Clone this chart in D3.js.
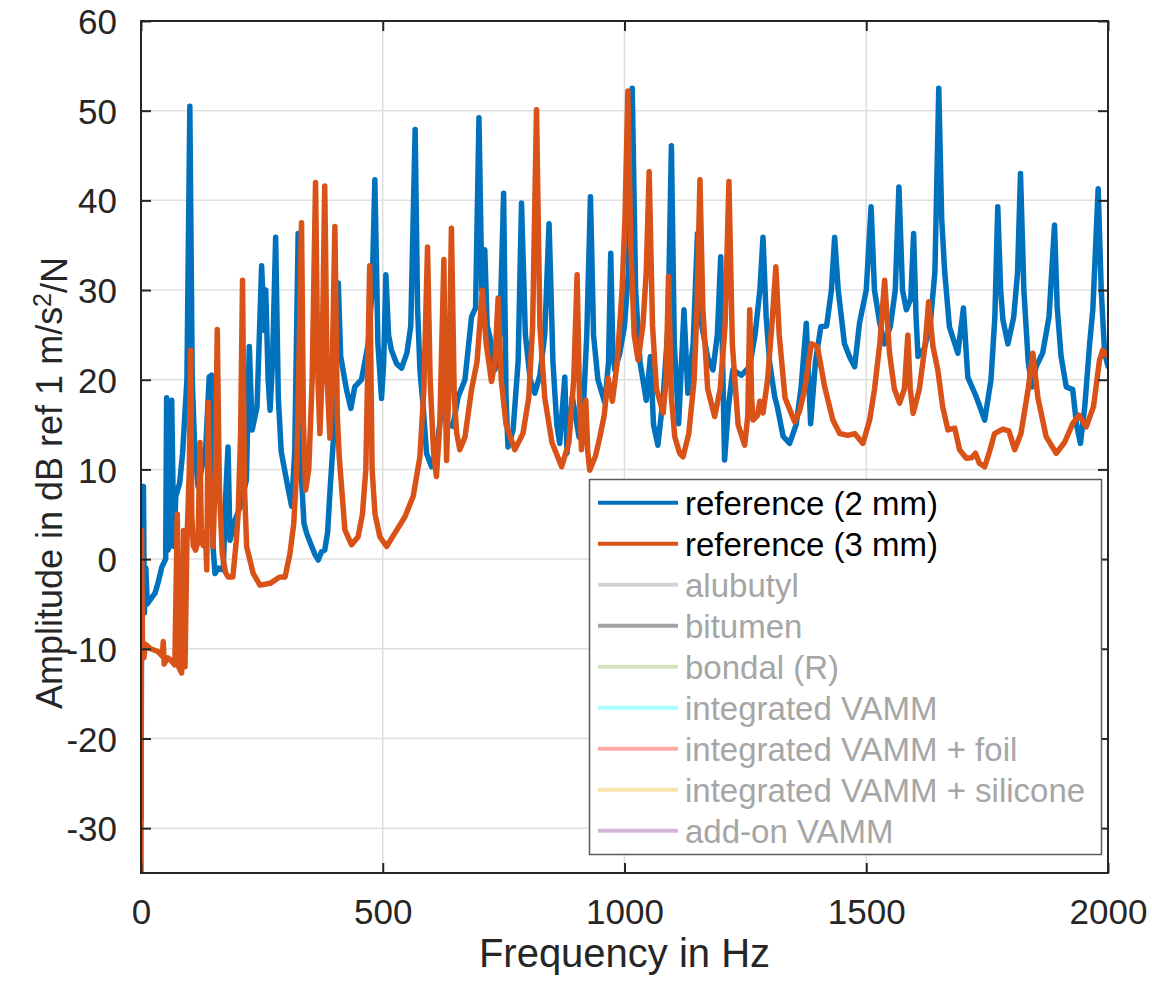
<!DOCTYPE html>
<html>
<head>
<meta charset="utf-8">
<script src="https://cdn.jsdelivr.net/npm/d3@7"></script>
<style>
  body { margin: 0; background: #fff; }
  text { font-family: "Liberation Sans", Arial, Helvetica, sans-serif; fill: #262626; }
</style>
</head>
<body>
<div id="chart"></div>
<script>
// frequency (Hz), amplitude (dB)
const ref2mm = [
  [0,-29],[2,7.8],[5,8.1],[7,-6],[10,-1],[13,-5],[18,-4.6],[29,-3.8],[36,-2.5],[43,-0.9],
  [51,0],[53,18],[56,1],[61,2],[63.5,17.7],[68,1.4],[72,7],[80,8.5],[86,11.8],[95,20],
  [101,50.5],[106,20],[111,12.5],[118,8.1],[125,10],[134,12.5],[141,20.3],[146,20.5],[149,1.4],[153,-1.6],
  [160,-1],[170,-1.2],[176,8.1],[180,12.5],[184,2.1],[194,4.3],[205,5.8],[218,8.8],[224,23.7],[230,14.4],
  [240,17],[249.5,32.7],[255,25.5],[258,30],[263,20],[267,16.6],[272,22],[278.5,35.9],[284,18],[290,12],
  [301,8.8],[311.5,5.9],[318,12],[325,36.3],[329,12],[337,4],[342.5,2.9],[353,1.4],[360,0.5],[366.6,-0.1],
  [373,0.8],[380,1.0],[386,3],[391,7.7],[400,15],[408,30.8],[413,22.6],[425,18.9],[434,16.8],[442,19.2],
  [456,20],[470,24],[478,30],[483.7,42.3],[490,24],[497.5,17.9],[502,22],[506.5,31.7],[512,25],[518,23.3],
  [528.5,21.8],[539,21.3],[550,23],[558,26],[567,47.9],[572,28],[577,21],[583.6,17],[590.6,11.8],[601,10.3],
  [611,12.2],[621.6,16.6],[635,15.1],[645,14.8],[656,18.1],[670,20],[683.6,27],[692,28],[699,49.2],[705,30],
  [711,34.5],[716,26],[721.5,24.8],[732,21.1],[742,25],[750,40.8],[755,18],[759,12.5],[769.6,14.4],[780,22],
  [787,39.7],[795,25],[805,20],[814.5,18.5],[825,20.5],[835,25],[844,37.4],[852,22],[860,15],[866,12.9],
  [876.5,20.3],[881,11.8],[892,18.1],[906,13.6],[915,17],[922,25],[929.6,40.4],[936,25],[945,20],[959.5,17.4],
  [967,22],[971.5,34.1],[976,23],[980,21.1],[990,22.9],[1000,26],[1008,32],[1016,52.5],[1023,30],[1032,22],
  [1045,17.7],[1053.6,22.6],[1060,15],[1069,12.7],[1080,18],[1090,26],[1097,46.1],[1103,24],[1112,15.1],[1123,27.8],
  [1131,18.5],[1142,24],[1151,36.3],[1160,26],[1172,22.5],[1183,21.1],[1192,25],[1199,33.7],[1203,22],[1207,11.05],
  [1215,17],[1224,21.1],[1242,20.5],[1259,21.5],[1270,25],[1280,30],[1286.5,35.9],[1293,27],[1300,22],[1310.6,18.1],
  [1316,17],[1328,13.7],[1341.5,12.9],[1355,15],[1365,19],[1376,26.3],[1385,15.1],[1395,22],[1406,25.9],[1418,26],
  [1428,30],[1434.6,35.9],[1442,30],[1455,24],[1466,22.5],[1476,21.45],[1486,26.3],[1500,30],[1510,39.3],[1517,30],
  [1528,26.3],[1538,24],[1550,26],[1560,30],[1567.6,41.5],[1575,30],[1583,27.8],[1592,29],[1598,36.3],[1603,27],
  [1607,22.6],[1620,23.5],[1632,26],[1642,32],[1650,52.5],[1656,38],[1662,32.2],[1672,25.9],[1689.5,22.95],[1701,28],
  [1710,20.3],[1727.5,18.1],[1745,15.5],[1758,20],[1766,27],[1772,39.3],[1778,30],[1782.6,26.7],[1793,24],[1805,27],
  [1813,32],[1819,43],[1826,30],[1835,22],[1842.6,19.2],[1851.6,21.5],[1865,23],[1878,27],[1889.4,37.25],[1895,28],
  [1903,22.6],[1913.6,19.2],[1927,18.9],[1935,15],[1943,12.9],[1952,17],[1962,24],[1968.6,27.8],[1979.7,41.3],[1986,30],
  [1993,23],[2000,21.5]
];

const ref3mm = [
  [0,-35],[1,3.2],[3,-9],[6,-11],[9,-9.5],[20,-10],[35,-10.3],[44,-10.8],[46,-9.2],[48,-11.7],
  [55,-11],[62,-11.3],[70,-11.8],[75,5],[78,-12],[84,-12.7],[88,3.2],[91,-12],[95,2],[100,10],
  [102.7,23.3],[105,5],[108,1.5],[113,1],[118,2],[122,13],[125,2],[129,1.5],[133,3],[136,-1.2],
  [139,17.5],[143,5],[147,8],[149,1.4],[154,10],[157.7,25.6],[162,8],[168,0.6],[175,-1.5],[180.5,-2],
  [190,-2],[197,2],[201,5.1],[206,14],[210,31.1],[214,8],[218.5,1.4],[232,-1.6],[246,-2.9],[267,-2.7],
  [287,-2.0],[298,-2],[308,0.6],[316,4],[322,10],[326,20],[332,37.5],[336,15],[340.4,7.7],[347,10],
  [354,20],[361,42],[366,20],[370,14],[374,20],[380,41.6],[385,20],[390.7,13.5],[395,20],[401,37.1],
  [406,16],[410,11.4],[421.7,3.25],[435.5,1.6],[449,2.5],[458,5],[465,10],[473,32.7],[478,10],[484,5],
  [494,2.5],[508,1.4],[525,2.9],[545.7,4.7],[563,7],[576.8,11.4],[585,18.9],[592.6,34.8],[598,20],[605,12],
  [611,9.2],[618,15],[626.4,33.4],[629,20],[632,11],[637,20],[642,36.9],[648,18],[653,14],[659.4,12.2],
  [670,13.6],[683.6,18.9],[695,22],[706,30],[714,24],[725,19.8],[732,22],[738.6,29.1],[745,20],[755,15],
  [773,12.2],[790,14],[802,18],[810,26],[818,50.1],[825,26],[835,18],[850,13],[870,10.3],[885,13],
  [895,20],[902,31.7],[907,18],[911,12.2],[920,17.7],[924,12],[928,9.9],[940,11.5],[949,13.6],[958,16],
  [966,20.2],[975,17.6],[985,22],[995,30],[1001,38],[1007,52.2],[1013,35],[1020,25],[1028,22.2],[1038,26],
  [1045,32],[1051,43.2],[1058,26],[1066,19],[1080,16.3],[1086,20],[1091,31.5],[1097,18],[1104,13.65],[1114,11.8],
  [1121,11.4],[1133,14],[1144,20],[1150,28],[1156,42.3],[1162,28],[1172,19],[1186.5,15.9],[1198,19],[1208,26],
  [1216,42.1],[1223,24],[1235,15],[1248.6,12.7],[1255,16],[1259,27.8],[1263,18],[1266,15.5],[1275,16],[1280,17.6],
  [1286.5,16.3],[1296,20],[1306,27],[1313,32.6],[1320,25],[1332,18],[1352,15.3],[1362,16.5],[1372.6,18.9],[1386.5,24],
  [1399,23.7],[1414,19.2],[1431,15.5],[1445,14.0],[1462,13.8],[1476,14.0],[1493,12.9],[1507,15.5],[1517,18.9],[1528,24],
  [1538,31.1],[1548,23],[1558,19],[1569,17.4],[1579,19],[1586,25],[1591,19],[1597,16.25],[1610,19],[1622,24],
  [1629,28.7],[1638,23.7],[1648,21.1],[1658,17],[1669,14.4],[1683,14.6],[1693,12.2],[1707,11.25],[1718,11.3],[1726,11.8],
  [1734,10.7],[1745,10.3],[1755,12],[1765.4,14.0],[1782.6,14.5],[1795,14.3],[1807,12.2],[1820,14],[1835,19],[1844.6,22.95],
  [1855,18],[1872,13.65],[1893,11.8],[1910,13],[1927,15.1],[1940,16.05],[1955,14.75],[1970,17],[1982.5,22.2],[1989,23.3],
  [2000,22.6]
];

const xTicks = [0, 500, 1000, 1500, 2000];
const yTicks = [-30, -20, -10, 0, 10, 20, 30, 40, 50, 60];

const legendLabels = ["reference (2 mm)", "reference (3 mm)", "alubutyl", "bitumen", "bondal (R)",
  "integrated VAMM", "integrated VAMM + foil", "integrated VAMM + silicone", "add-on VAMM"];
const legendColors = ["#0072bd", "#d95319", "#d4d4d4", "#a3a3a3", "#d3e2bd",
  "#a8fdff", "#fea8a8", "#fbe3ad", "#d5b6da"];
const legendActive = [true, true, false, false, false, false, false, false, false];

const width = 1152, height = 983;
const margin = {top: 21, right: 44, bottom: 110, left: 141};

const svg = d3.select("#chart").append("svg")
  .attr("width", width)
  .attr("height", height)
  .style("background", "#fff");

const x = d3.scaleLinear().domain([0, 2000]).range([margin.left, width - margin.right]);
const y = d3.scaleLinear().domain([-35, 60]).range([height - margin.bottom, margin.top]);

// grid
svg.append("g")
  .selectAll("line")
  .data(xTicks.slice(1, -1))
  .join("line")
  .attr("x1", d => x(d)).attr("x2", d => x(d))
  .attr("y1", y(-35)).attr("y2", y(60))
  .attr("stroke", "#dfdfdf").attr("stroke-width", 1.5);

svg.append("g")
  .selectAll("line")
  .data(yTicks.slice(0, -1))
  .join("line")
  .attr("x1", x(0)).attr("x2", x(2000))
  .attr("y1", d => y(d)).attr("y2", d => y(d))
  .attr("stroke", "#dfdfdf").attr("stroke-width", 1.5);

// curves
svg.append("clipPath").attr("id", "plotClip")
  .append("rect")
  .attr("x", x(0)).attr("y", y(60))
  .attr("width", x(2000) - x(0)).attr("height", y(-35) - y(60));

const line = d3.line().x(d => x(d[0])).y(d => y(d[1]));

const curves = svg.append("g").attr("clip-path", "url(#plotClip)");
[[ref2mm, legendColors[0]], [ref3mm, legendColors[1]]].forEach(([data, color]) => {
  curves.append("path")
    .datum(data)
    .attr("fill", "none")
    .attr("stroke", color)
    .attr("stroke-width", 5.5)
    .attr("stroke-linejoin", "round")
    .attr("stroke-linecap", "round")
    .attr("d", line);
});

// axes (ticks inside, box on)
const tickLen = 10;
const axisColor = "#262626";
const fmt = d => String(d);

const xAxis = svg.append("g")
  .attr("transform", `translate(0,${y(-35)})`)
  .call(d3.axisBottom(x).tickValues(xTicks).tickFormat(fmt).tickSize(-tickLen).tickPadding(tickLen + 16));
const xTop = svg.append("g")
  .attr("transform", `translate(0,${y(60)})`)
  .call(d3.axisTop(x).tickValues(xTicks).tickSize(-tickLen).tickFormat(""));
const yAxis = svg.append("g")
  .attr("transform", `translate(${x(0)},0)`)
  .call(d3.axisLeft(y).tickValues(yTicks).tickFormat(fmt).tickSize(-tickLen).tickPadding(tickLen + 14));
const yRight = svg.append("g")
  .attr("transform", `translate(${x(2000)},0)`)
  .call(d3.axisRight(y).tickValues(yTicks).tickSize(-tickLen).tickFormat(""));

[xAxis, xTop, yAxis, yRight].forEach(g => {
  g.select(".domain").remove();
  g.selectAll(".tick line").attr("stroke", axisColor).attr("stroke-width", 2);
  g.selectAll(".tick text")
    .attr("fill", axisColor)
    .style("font-size", "35px")
    .style("font-family", "'Liberation Sans', Arial, sans-serif");
});
yAxis.selectAll(".tick text").attr("dy", "0.36em");

svg.append("rect")
  .attr("x", x(0)).attr("y", y(60))
  .attr("width", x(2000) - x(0)).attr("height", y(-35) - y(60))
  .attr("fill", "none").attr("stroke", axisColor).attr("stroke-width", 2);

// axis labels
svg.append("text")
  .attr("x", (x(0) + x(2000)) / 2)
  .attr("y", 967)
  .attr("text-anchor", "middle")
  .style("font-size", "40px")
  .text("Frequency in Hz");

const yLab = svg.append("text")
  .attr("transform", `translate(62,483) rotate(-90)`)
  .attr("text-anchor", "middle")
  .style("font-size", "36px");
yLab.append("tspan").text("Amplitude in dB ref 1 m/s");
yLab.append("tspan").attr("dy", "-0.45em").style("font-size", "25px").text("2");
yLab.append("tspan").attr("dy", "0.45em").text("/N");

// legend
const lg = svg.append("g");
lg.append("rect")
  .attr("x", 589.5).attr("y", 479.5)
  .attr("width", 512).attr("height", 375)
  .attr("fill", "#fff").attr("stroke", "#5a5a5a").attr("stroke-width", 1.5);

const rows = lg.selectAll("g.row")
  .data(legendLabels)
  .join("g")
  .attr("transform", (d, i) => `translate(0,${502.7 + i * 41})`);

rows.append("line")
  .attr("x1", 598).attr("x2", 678)
  .attr("y1", 0).attr("y2", 0)
  .attr("stroke", (d, i) => legendColors[i])
  .attr("stroke-width", 4);

rows.append("text")
  .attr("x", 685)
  .attr("dy", "0.36em")
  .style("font-size", "33px")
  .style("fill", (d, i) => legendActive[i] ? "#000" : "#a6a6a6")
  .text(d => d);
</script>
</body>
</html>
